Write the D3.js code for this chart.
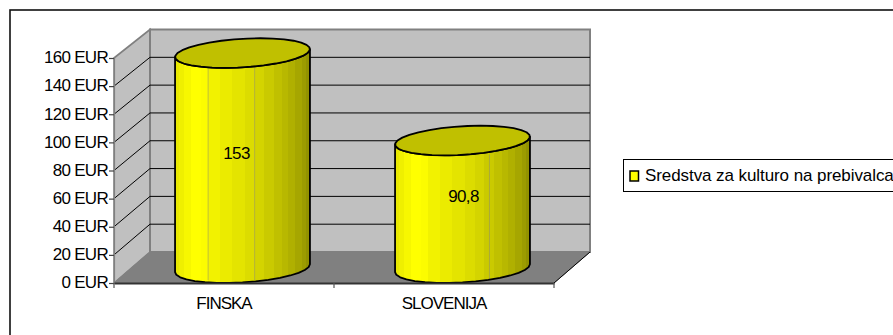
<!DOCTYPE html>
<html>
<head>
<meta charset="utf-8">
<script src="https://cdn.jsdelivr.net/npm/d3@7/dist/d3.min.js"></script>
<style>
  html, body { margin: 0; padding: 0; background: #fff; }
  svg { display: block; }
  text { font-family: "Liberation Sans", Arial, sans-serif; font-size: 17px; fill: #000; }
</style>
</head>
<body>
<svg id="chart" width="893" height="335"></svg>
<script>
const categories = ["FINSKA", "SLOVENIJA"];
const values = [153, 90.8];
const valueLabels = ["153", "90,8"];
const tickValues = [0, 20, 40, 60, 80, 100, 120, 140, 160];
const seriesName = "Sredstva za kulturo na prebivalca";

// Bands across the cylinder, left edge to right edge: [position 0..1, colour]
const shadeStops = [
  [0, "#e8e800"], [0.03, "#efef00"], [0.07, "#f7f700"], [0.12, "#ffff00"],
  [0.19, "#fcfc00"], [0.245, "#f2f200"], [0.33, "#ebeb00"], [0.42, "#e4e400"],
  [0.52, "#dcdc00"], [0.59, "#d4d400"], [0.66, "#caca00"], [0.73, "#c0c000"],
  [0.79, "#b8b800"], [0.84, "#b0b000"], [0.89, "#a6a600"], [0.94, "#9c9c00"], [0.97, "#929200"]
];

const svg = d3.select("#chart");
const x = d3.scaleBand().domain(categories).range([114, 554]);
const y = d3.scaleLinear().domain([0, 160]).range([283, 58]);       // front plane
const yBack = d3.scaleLinear().domain([0, 160]).range([252, 29.5]); // back wall
const depthX = 36;
const plot = { left: 114, right: 554 };

// Outer frame
svg.append("rect").attr("x", 10).attr("y", 10).attr("width", 900).attr("height", 340)
  .attr("fill", "#fff").attr("stroke", "#111").attr("stroke-width", 1.6);

// Side wall, floor, back wall
const poly = pts => pts.map(p => p.join(",")).join(" ");
svg.append("polygon").attr("fill", "#c0c0c0").attr("stroke", "#808080").attr("stroke-width", 1.6)
  .attr("points", poly([[plot.left, y(0)], [plot.left, y(160)],
    [plot.left + depthX, yBack(160)], [plot.left + depthX, yBack(0)]]));
svg.append("polygon").attr("fill", "#808080").attr("stroke", "#808080").attr("stroke-width", 1)
  .attr("points", poly([[plot.left, y(0)], [plot.right, y(0)],
    [plot.right + depthX, yBack(0)], [plot.left + depthX, yBack(0)]]));
svg.append("rect").attr("x", plot.left + depthX).attr("y", yBack(160))
  .attr("width", plot.right - plot.left).attr("height", yBack(0) - yBack(160))
  .attr("fill", "#c0c0c0").attr("stroke", "#808080").attr("stroke-width", 2);

// Gridlines run along the side wall and then across the back wall
const grid = svg.append("g").attr("fill", "none").attr("stroke", "#000").attr("stroke-width", 1);
tickValues.filter(v => v > 0 && v < 160).forEach(v => {
  grid.append("polyline").attr("points", poly([[plot.left, y(v)],
    [plot.left + depthX, yBack(v)], [plot.right + depthX, yBack(v)]]));
});

// Floor edge on the right
svg.append("line").attr("x1", plot.right).attr("y1", y(0))
  .attr("x2", plot.right + depthX).attr("y2", yBack(0)).attr("stroke", "#000");

// Stepped shading for the cylinder sides
const grad = svg.append("defs").append("linearGradient").attr("id", "cyl");
shadeStops.forEach((s, i) => {
  const end = i < shadeStops.length - 1 ? shadeStops[i + 1][0] : 1;
  grad.append("stop").attr("offset", s[0]).attr("stop-color", s[1]);
  grad.append("stop").attr("offset", end).attr("stop-color", s[1]);
});

// The circular section is sheared by the oblique projection
const halfWidth = 65;
const halfDepth = { x: 18, y: -14.8 };
const tangent = Math.atan2(halfDepth.x, halfWidth);
const extent = Math.hypot(halfWidth, halfDepth.x);
const rim = (cx, cy, t) => [cx + halfWidth * Math.cos(t) + halfDepth.x * Math.sin(t),
                            cy + halfDepth.y * Math.sin(t)];
const arc = (cx, cy, a, b, n) => d3.range(0, n + 1).map(i => rim(cx, cy, a + (b - a) * i / n));
const facetLines = [[0.245, 0.59], [0.70]];
const labelNudge = [-6, 1];

categories.forEach((c, i) => {
  const cx = x(c) + x.bandwidth() / 2 + halfDepth.x + 0.5;
  const yBase = y(0) + halfDepth.y;
  const yTop = y(values[i]) + halfDepth.y;
  const g = svg.append("g");
  const bottomEdge = arc(cx, yBase, tangent, tangent - Math.PI, 16);
  const topEdge = arc(cx, yTop, tangent - Math.PI, tangent, 16);
  const body = d3.line()([...bottomEdge, ...topEdge]) + "Z";
  g.append("path").attr("d", body).attr("fill", "url(#cyl)");
  // Faint seams between facets
  facetLines[i].forEach(f => {
    const fx = cx - extent + f * 2 * extent;
    g.append("line").attr("x1", fx).attr("x2", fx)
      .attr("y1", yTop + 14).attr("y2", yBase + 12)
      .attr("stroke", "#808080").attr("stroke-opacity", 0.45);
  });
  g.append("path").attr("d", body).attr("fill", "none")
    .attr("stroke", "#000").attr("stroke-width", 1.8).attr("stroke-linejoin", "round");
  g.append("path").attr("d", d3.line()(arc(cx, yTop, 0, 2 * Math.PI, 32)) + "Z")
    .attr("fill", "#c0c000").attr("stroke", "#000").attr("stroke-width", 1.8)
    .attr("stroke-linejoin", "round");
  g.append("text").attr("x", cx + labelNudge[i]).attr("y", (yBase + yTop) / 2 - 8)
    .attr("text-anchor", "middle").attr("dy", "0.35em")
    .attr("letter-spacing", -0.6).text(valueLabels[i]);
});

// Value axis on the front plane
const yAxis = svg.append("g").attr("transform", `translate(${plot.left},0)`)
  .call(d3.axisLeft(y).tickValues(tickValues).tickSize(5).tickPadding(1).tickFormat(d => d + " EUR"));
yAxis.selectAll("line").attr("stroke", "#444").attr("stroke-width", 1.2);
yAxis.select(".domain").attr("stroke", "#808080").attr("stroke-width", 1.2);
yAxis.selectAll("text").attr("dy", "0.28em").attr("letter-spacing", -0.7);

// Category axis
const xAxis = svg.append("g").attr("transform", `translate(0,${y(0)})`)
  .call(d3.axisBottom(x).tickSize(0).tickPadding(14));
xAxis.select(".domain").attr("stroke", "#333").attr("stroke-width", 1.8);
xAxis.selectAll("text").attr("letter-spacing", -1);
[plot.left, (plot.left + plot.right) / 2, plot.right].forEach(px => {
  xAxis.append("line").attr("x1", px).attr("x2", px).attr("y1", 0).attr("y2", 5)
    .attr("stroke", "#555").attr("stroke-width", 1.2);
});
svg.selectAll("text").style("font-family", '"Liberation Sans", Arial, sans-serif')
  .style("font-size", "17px").attr("fill", "#000");

// Legend
const legend = svg.append("g");
legend.append("rect").attr("x", 623.5).attr("y", 159.5).attr("width", 273).attr("height", 32)
  .attr("fill", "#fff").attr("stroke", "#000");
legend.append("rect").attr("x", 630).attr("y", 171).attr("width", 8.5).attr("height", 10)
  .attr("fill", "#ffff00").attr("stroke", "#000").attr("stroke-width", 1.5);
legend.append("text").attr("x", 645).attr("y", 181).attr("letter-spacing", -0.08).text(seriesName);
</script>
</body>
</html>
